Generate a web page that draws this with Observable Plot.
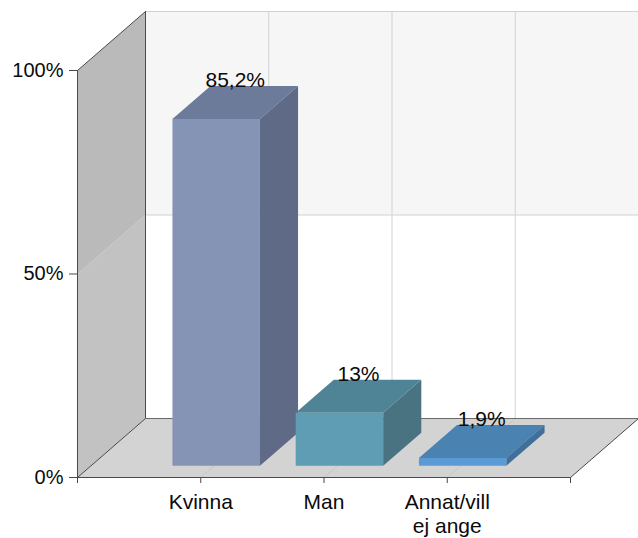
<!DOCTYPE html>
<html>
<head>
<meta charset="utf-8">
<script src="https://cdn.jsdelivr.net/npm/d3@7"></script>
<script src="https://cdn.jsdelivr.net/npm/@observablehq/plot@0.6"></script>
<style>
  html, body { margin: 0; padding: 0; background: #ffffff; }
  #chart { width: 638px; height: 538px; }
</style>
</head>
<body>
<div id="chart"></div>
<script>
// ---- data ----
const categories = ["Kvinna", "Man", "Annat/vill\nej ange"];
const values = [85.2, 13, 1.9];
const yTicks = [0, 50, 100];

// ---- palette (front, top, side per bar) ----
const frontColors = ["#8593b4", "#5f9db4", "#5b9bd5"];
const topColors = ["#6d7b9b", "#4f8496", "#4a82b2"];
const sideColors = ["#5f6b86", "#4a7382", "#3f6f9a"];

// ---- 3D projection helpers (depth z in [0,1]) ----
const DX = 68 / 123.25;   // depth offset in x units
const DY = 59 / 4.07;     // depth offset in y (percent) units
const P = (x, y, z) => ({x: x + z * DX, y: y + z * DY});
const nCat = categories.length;
const xMax = nCat + 1;

const poly = (pts, fill, stroke = "none") =>
  Plot.line([...pts, pts[0]], {x: "x", y: "y", fill, stroke, strokeWidth: 1, curve: "linear"});
const seg = (a, b, stroke) =>
  Plot.line([a, b], {x: "x", y: "y", stroke, strokeWidth: 1});

const edge = "#4a4a4a";
const grid = "#d2d2d2";
const ink = "#0a0a0a";
const marks = [];

// back wall
marks.push(poly([P(0, 50, 1), P(xMax, 50, 1), P(xMax, 100, 1), P(0, 100, 1)], "#f6f6f6"));
marks.push(poly([P(0, 0, 1), P(xMax, 0, 1), P(xMax, 50, 1), P(0, 50, 1)], "#ffffff"));
for (const t of yTicks.slice(1)) marks.push(seg(P(0, t, 1), P(xMax, t, 1), grid));
categories.forEach((c, i) => marks.push(seg(P(i + 1, 0, 1), P(i + 1, 100, 1), grid)));

// left wall
marks.push(poly([P(0, 0, 0), P(0, 0, 1), P(0, 50, 1), P(0, 50, 0)], "#c2c2c2"));
marks.push(poly([P(0, 50, 0), P(0, 50, 1), P(0, 100, 1), P(0, 100, 0)], "#bababa"));

// floor
marks.push(poly([P(0, 0, 0), P(xMax, 0, 0), P(xMax, 0, 1), P(0, 0, 1)], "#d3d3d3"));
categories.forEach((c, i) => marks.push(seg(P(i + 1, 0, 0), P(i + 1, 0, 1), "#c6c6c6")));

// edges
marks.push(seg(P(0, 0, 0), P(0, 100, 0), edge));
marks.push(seg(P(0, 100, 0), P(0, 100, 1), edge));
marks.push(seg(P(0, 0, 1), P(0, 100, 1), edge));
marks.push(seg(P(0, 0, 0), P(0, 0, 1), edge));
marks.push(seg(P(0, 0, 1), P(xMax, 0, 1), "#6a6a6a"));
marks.push(seg(P(xMax, 0, 0), P(xMax, 0, 1), edge));
marks.push(seg(P(0, 0, 0), P(xMax, 0, 0), edge));

// bars
const z0 = 0.2, z1 = 0.76;
const bl = -0.34, br = 0.37;
values.forEach((v, i) => {
  const c = i + 1, x0 = c + bl, x1 = c + br;
  marks.push(poly([P(x0, 0, z0), P(x1, 0, z0), P(x1, v, z0), P(x0, v, z0)], frontColors[i]));
  marks.push(poly([P(x0, v, z0), P(x1, v, z0), P(x1, v, z1), P(x0, v, z1)], topColors[i]));
  marks.push(poly([P(x1, 0, z0), P(x1, 0, z1), P(x1, v, z1), P(x1, v, z0)], sideColors[i]));
});

// value labels
marks.push(Plot.text(values, {
  x: (d, i) => i + 1 + (bl + br) / 2 + (z0 + z1) / 2 * DX,
  y: d => d + z1 * DY,
  text: d => String(d).replace(".", ",") + "%",
  lineAnchor: "bottom", dy: 1, fontSize: 21, fill: ink
}));

// axes
marks.push(Plot.axisY(yTicks, {
  tickFormat: d => d + "%", tickSize: 8, tickPadding: 6, label: null,
  stroke: edge, fontSize: 20, fill: ink
}));
marks.push(Plot.axisX(d3.range(0, xMax + 1), {
  tickFormat: () => "", tickSize: 6, label: null, stroke: edge
}));
marks.push(Plot.text(categories, {
  x: (d, i) => i + 1, y: 0, text: d => d,
  lineAnchor: "top", dy: 15.5, lineHeight: 1.1, fontSize: 21, fill: ink
}));

const chart = Plot.plot({
  width: 638, height: 538,
  marginLeft: 77, marginRight: 68, marginTop: 70, marginBottom: 61,
  x: {type: "linear", domain: [0, xMax]},
  y: {type: "linear", domain: [0, 100]},
  style: {fontFamily: "'Liberation Sans', Arial, sans-serif", fontSize: "20px", color: ink, background: "#ffffff"},
  marks
});
document.getElementById("chart").appendChild(chart);
</script>
</body>
</html>
